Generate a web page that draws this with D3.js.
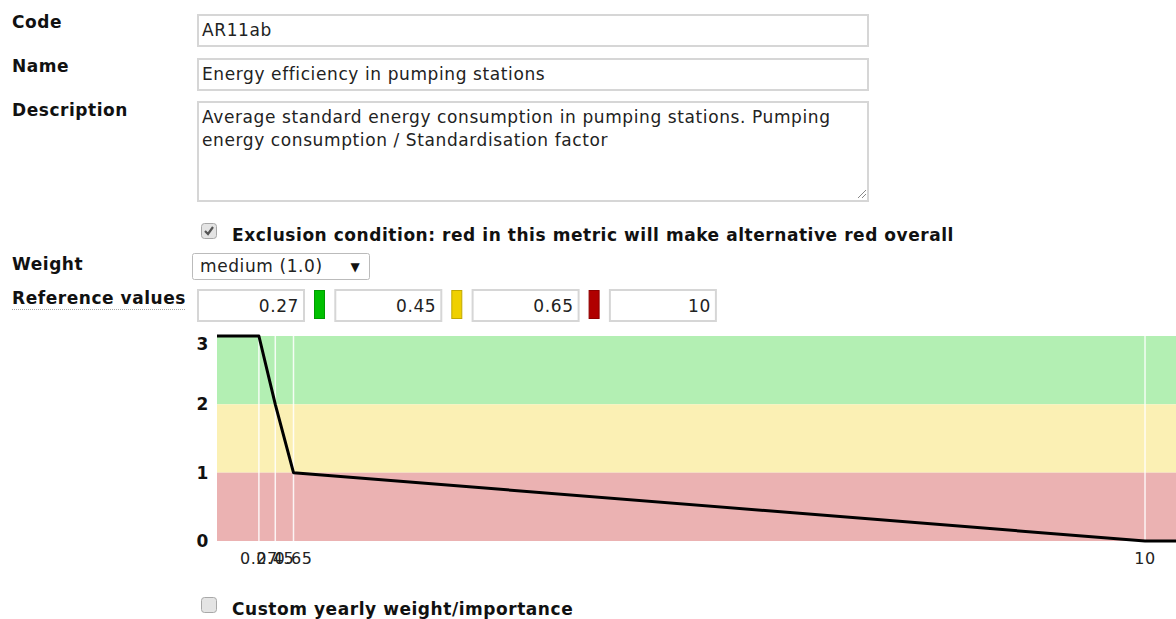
<!DOCTYPE html>
<html>
<head>
<meta charset="utf-8">
<script src="https://cdn.jsdelivr.net/npm/d3@7"></script>
<style>
  html, body { margin: 0; padding: 0; background: #fff; overflow: hidden; }
  svg { display: block; font-family: "DejaVu Sans", Verdana, sans-serif; }
  .b { font-weight: bold; font-size: 17px; letter-spacing: 0.55px; fill: #111; }
  .r { font-size: 17px; letter-spacing: 0.6px; fill: #222; }
  .t { font-size: 16px; letter-spacing: 0.6px; fill: #222; }
</style>
</head>
<body>
<svg id="page" width="1176" height="619"></svg>
<script>
// ---- data ----
const codeValue = "AR11ab";
const nameValue = "Energy efficiency in pumping stations";
const descriptionLines = ["Average standard energy consumption in pumping stations. Pumping", "energy consumption / Standardisation factor"];
const exclusionLabel = "Exclusion condition: red in this metric will make alternative red overall";
const weightValue = "medium (1.0)";
const referenceValues = [0.27, 0.45, 0.65, 10];
const referenceColors = ["#00c000", "#efd000", "#b00000"];
const scoreLevels = [3, 2, 1, 0];           // score at each reference value
const bandRanges = [[2, 3], [1, 2], [0, 1]];
const bandColors = ["#b3efb3", "#fbf0b4", "#ebb2b2"];
const yTicks = [0, 1, 2, 3];
const xTickLabels = ["0.27", "0.45", "0.65", "10"];
const xDomain = [-0.19, 10.45];

const svg = d3.select("#page");

// ---- form labels ----
const labels = [["Code", 28], ["Name", 72], ["Description", 116], ["Weight", 270], ["Reference values", 304]];
svg.selectAll("text.lbl").data(labels).join("text")
  .attr("class", "lbl b").attr("x", 12).attr("y", d => d[1])
  .text(d => d[0]);
svg.append("line").attr("x1", 12).attr("x2", 186).attr("y1", 309.5).attr("y2", 309.5)
  .attr("stroke", "#aaa").attr("stroke-dasharray", "1,1");

function box(x, y, w, h) {
  svg.append("rect").attr("x", x + 1).attr("y", y + 1).attr("width", w - 2).attr("height", h - 2)
    .attr("fill", "#fff").attr("stroke", "#d6d6d6").attr("stroke-width", 2);
}
box(197, 14, 672, 33);
svg.append("text").attr("class", "r").attr("x", 202).attr("y", 36).text(codeValue);
box(197, 58, 672, 33);
svg.append("text").attr("class", "r").attr("x", 202).attr("y", 80).text(nameValue);
box(197, 101, 672, 101);
descriptionLines.forEach((l, i) => svg.append("text").attr("class", "r").attr("x", 202).attr("y", 123 + i * 23).text(l));
// resize grip
svg.append("path").attr("d", "M858,198 L866,190 M862,198 L866,194").attr("stroke", "#888").attr("stroke-width", 1);

// checkbox
function checkbox(x, y, checked) {
  svg.append("rect").attr("x", x + 0.5).attr("y", y + 0.5).attr("width", 15).attr("height", 15).attr("rx", 3)
    .attr("fill", "#e4e4e4").attr("stroke", "#a8a8a8");
  if (checked) svg.append("path").attr("d", `M${x+4},${y+8} L${x+7},${y+11} L${x+12},${y+4}`)
    .attr("fill", "none").attr("stroke", "#555").attr("stroke-width", 2.2);
}
checkbox(201, 223, true);
svg.append("text").attr("class", "b").attr("x", 232).attr("y", 241).text(exclusionLabel);

// select
svg.append("rect").attr("x", 192.5).attr("y", 253.5).attr("width", 177).attr("height", 26).attr("rx", 2)
  .attr("fill", "#fff").attr("stroke", "#bbb");
svg.append("text").attr("class", "r").attr("x", 200).attr("y", 272).text(weightValue);
svg.append("text").attr("x", 355).attr("y", 271).attr("font-size", 12).attr("text-anchor", "middle").attr("fill", "#111").text("▼");

// reference value inputs
const inputW = 108, step = 137.3;
referenceValues.forEach((v, i) => {
  const x0 = 197 + i * step;
  box(x0, 289, inputW, 33);
  svg.append("text").attr("class", "r").attr("x", x0 + inputW - 6).attr("y", 312).attr("text-anchor", "end").text(v);
  if (i < referenceColors.length) {
    svg.append("rect").attr("x", x0 + inputW + 9.5).attr("y", 290.5).attr("width", 10).attr("height", 28)
      .attr("fill", referenceColors[i]).attr("stroke", d3.color(referenceColors[i]).darker(0.6));
  }
});

// ---- chart ----
const plot = { left: 217, right: 1186, top: 336, bottom: 541 };
const x = d3.scaleLinear().domain(xDomain).range([plot.left, plot.right]);
const y = d3.scaleLinear().domain([0, 3]).range([plot.bottom, plot.top]);

const g = svg.append("g");
g.selectAll("rect.band").data(bandRanges).join("rect").attr("class", "band")
  .attr("x", x(xDomain[0])).attr("width", x(xDomain[1]) - x(xDomain[0]))
  .attr("y", d => y(d[1])).attr("height", d => y(d[0]) - y(d[1]))
  .attr("fill", (d, i) => bandColors[i]);

g.selectAll("line.ref").data(referenceValues).join("line").attr("class", "ref")
  .attr("x1", d => x(d)).attr("x2", d => x(d)).attr("y1", y(3)).attr("y2", y(0))
  .attr("stroke", "#fff").attr("stroke-opacity", 0.85).attr("stroke-width", 1.5);

const pts = [[xDomain[0], scoreLevels[0]]]
  .concat(referenceValues.map((v, i) => [v, scoreLevels[i]]))
  .concat([[xDomain[1], scoreLevels[scoreLevels.length - 1]]]);
g.append("path").datum(pts)
  .attr("d", d3.line().x(d => x(d[0])).y(d => y(d[1])))
  .attr("fill", "none").attr("stroke", "#000").attr("stroke-width", 3).attr("stroke-linejoin", "round");

// y labels
g.selectAll("text.yl").data(yTicks).join("text").attr("class", "yl b")
  .attr("x", 209).attr("y", d => Math.max(y(d), plot.top + 8) + 6)
  .attr("text-anchor", "end")
  .text(d => d);
// x labels
g.selectAll("text.xl").data(referenceValues).join("text").attr("class", "xl t")
  .attr("x", d => x(d)).attr("y", 564).attr("text-anchor", "middle")
  .text((d, i) => xTickLabels[i]);

// bottom checkbox
checkbox(201, 597, false);
svg.append("text").attr("class", "b").attr("x", 232).attr("y", 615).text("Custom yearly weight/importance");
</script>
</body>
</html>
